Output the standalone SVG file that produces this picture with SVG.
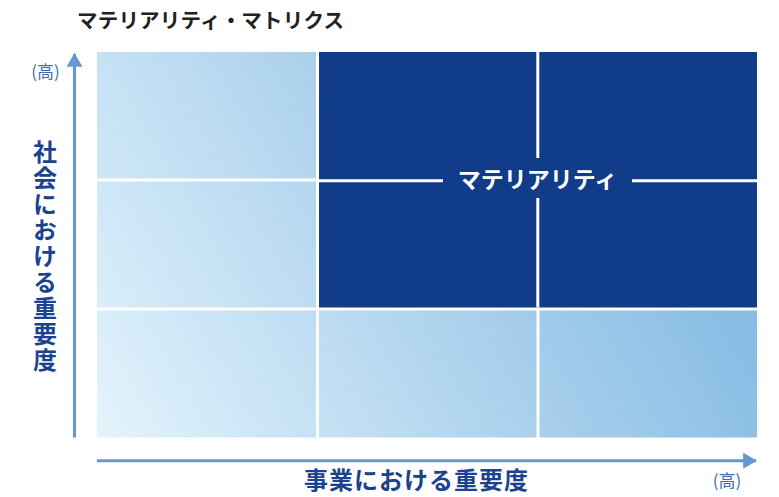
<svg xmlns="http://www.w3.org/2000/svg" width="779" height="497" viewBox="0 0 779 497">
  <defs>
    <linearGradient id="lg" gradientUnits="userSpaceOnUse" x1="97" y1="438" x2="757" y2="52">
      <stop offset="0" stop-color="#e4f4fc"/>
      <stop offset="0.25" stop-color="#c6e2f5"/>
      <stop offset="0.5" stop-color="#aad0ec"/>
      <stop offset="0.75" stop-color="#8ec0e6"/>
      <stop offset="1" stop-color="#78b2e0"/>
    </linearGradient>
    <marker id="ah" markerUnits="userSpaceOnUse" markerWidth="14" markerHeight="16" refX="12" refY="7.5" orient="auto" viewBox="0 0 13 15">
      <path d="M0,0 L13,7.5 L0,15 Z" fill="#6399d0"/>
    </marker>
    <style>
      .light { fill: url(#lg); }
      .dark { fill: #113c8a; }
      .sep { stroke: #ffffff; stroke-width: 3; }
      .axis { stroke: #6399d0; stroke-width: 3; fill: none; }
      .jp { font-family: "Noto Sans CJK JP", "Noto Sans", sans-serif; font-weight: bold; }
      .title { font-size: 20.5px; fill: #222222; }
      .axl { font-size: 24px; fill: #1b428e; }
      .hi { font-size: 17px; fill: #3f6fb0; font-weight: normal; }
      .mat { font-size: 23px; fill: #ffffff; }
    </style>
  </defs>

  <text class="jp title" x="77" y="28" letter-spacing="0.2">マテリアリティ・マトリクス</text>

  <g id="cell-light-r1c1"><rect class="light" x="97" y="52" width="219" height="126.5"/></g>
  <g id="cell-light-r2c1"><rect class="light" x="97" y="181.5" width="219" height="126"/></g>
  <g id="cell-light-r3c1"><rect class="light" x="97" y="310.5" width="219" height="127"/></g>
  <g id="cell-light-r3c2"><rect class="light" x="319" y="310.5" width="217.5" height="127"/></g>
  <g id="cell-light-r3c3"><rect class="light" x="539.5" y="310.5" width="217.5" height="127"/></g>

  <g id="materiality">
    <rect class="dark" x="319" y="52" width="438" height="255.5"/>
    <line class="sep" x1="537.8" y1="52" x2="537.8" y2="158"/>
    <line class="sep" x1="537.8" y1="198" x2="537.8" y2="307.5"/>
    <line class="sep" x1="319" y1="180.8" x2="443" y2="180.8"/>
    <line class="sep" x1="632" y1="180.8" x2="757" y2="180.8"/>
    <text class="jp mat" x="537.5" y="188" text-anchor="middle">マテリアリティ</text>
  </g>

  <g id="connectors">
    <line class="axis" x1="74.5" y1="437.5" x2="74.5" y2="54" marker-end="url(#ah)"/>
    <line class="axis" x1="97" y1="460.7" x2="756" y2="460.7" marker-end="url(#ah)"/>
  </g>

  <g id="y-axis-label">
    <text class="jp hi" x="45.5" y="78" text-anchor="middle">(高)</text>
    <text class="jp axl" x="45" y="257" text-anchor="middle" style="writing-mode: vertical-rl; letter-spacing: 2px;">社会における重要度</text>
  </g>

  <g id="x-axis-label">
    <text class="jp axl" x="416.5" y="489" text-anchor="middle" letter-spacing="1">事業における重要度</text>
    <text class="jp hi" x="727" y="487" text-anchor="middle">(高)</text>
  </g>
</svg>
